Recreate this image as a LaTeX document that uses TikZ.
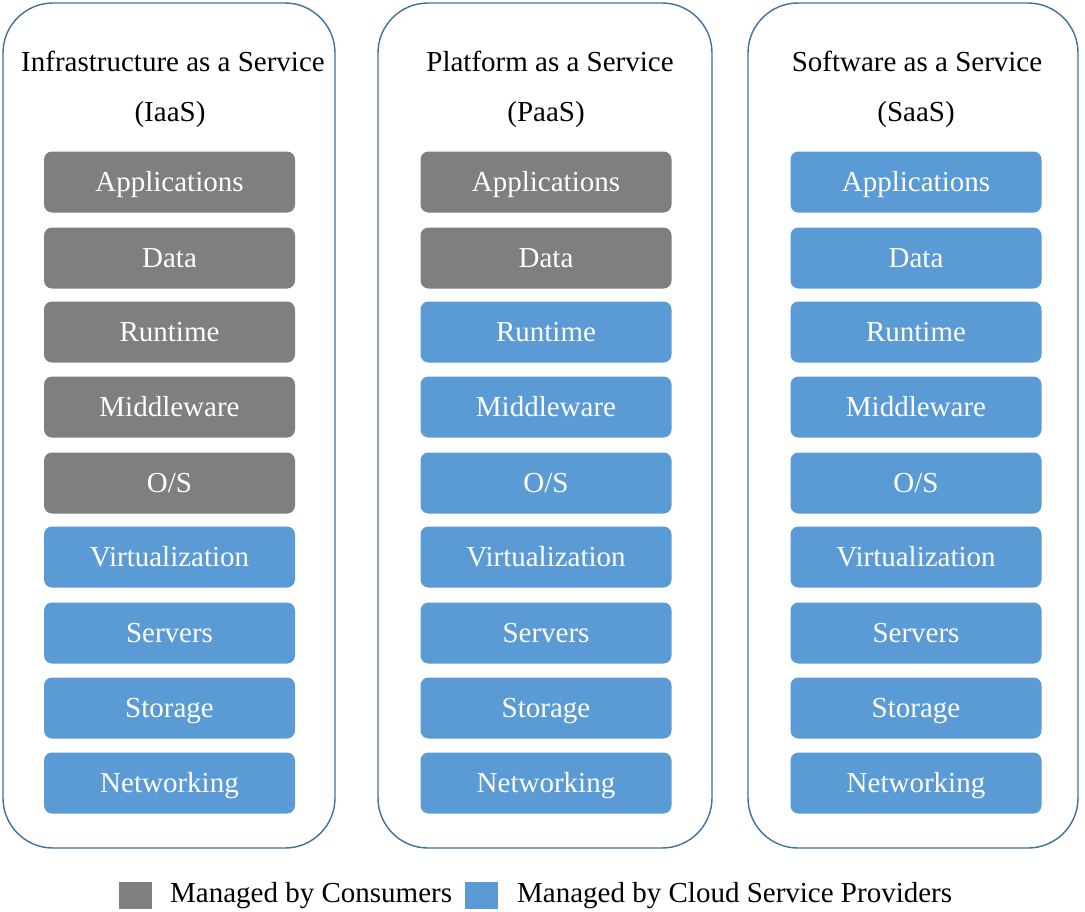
\documentclass[tikz,border=0pt]{standalone}
\usepackage{fontspec}
\setmainfont{Liberation Serif}
\definecolor{cgrey}{HTML}{7F7F7F}
\definecolor{cblue}{HTML}{5B9BD5}
\definecolor{cborder}{HTML}{41719C}
\begin{document}
\begin{tikzpicture}[x=1pt,y=-1pt,
  font=\fontsize{29}{34}\selectfont,
  container/.style={draw=cborder,line width=1.4pt,rounded corners=50pt,fill=white},
  layer/.style={rounded corners=8pt,minimum width=251pt,minimum height=61pt,inner sep=0pt,text=white,text height=22pt,text depth=3pt},
  cons/.style={layer,fill=cgrey},
  prov/.style={layer,fill=cblue},
  title/.style={text=black,inner sep=0pt,text height=22pt,text depth=3pt},
  legsq/.style={minimum width=33pt,minimum height=27pt,inner sep=0pt}]
\useasboundingbox (0,0) rectangle (1085,911);
\fill[white] (0,0) rectangle (1085,911);
% containers
\draw[container] (3,3) rectangle (335,848);
\draw[container] (378,3) rectangle (712,848);
\draw[container] (748,3) rectangle (1078,848);
% titles
\node[title] (t1a) at (173,62) {Infrastructure as a Service};
\node[title] (t1b) at (170,112) {(IaaS)};
\node[title] (t2a) at (550,62) {Platform as a Service};
\node[title] (t2b) at (546,112) {(PaaS)};
\node[title] (t3a) at (917,62) {Software as a Service};
\node[title] (t3b) at (916,112) {(SaaS)};
% IaaS
\node[cons] (i1) at (169.5,182) {Applications};
\node[cons] (i2) at (169.5,258) {Data};
\node[cons] (i3) at (169.5,332) {Runtime};
\node[cons] (i4) at (169.5,407) {Middleware};
\node[cons] (i5) at (169.5,483) {O/S};
\node[prov] (i6) at (169.5,557) {Virtualization};
\node[prov] (i7) at (169.5,633) {Servers};
\node[prov] (i8) at (169.5,708) {Storage};
\node[prov] (i9) at (169.5,783) {Networking};
% PaaS
\node[cons] (p1) at (546,182) {Applications};
\node[cons] (p2) at (546,258) {Data};
\node[prov] (p3) at (546,332) {Runtime};
\node[prov] (p4) at (546,407) {Middleware};
\node[prov] (p5) at (546,483) {O/S};
\node[prov] (p6) at (546,557) {Virtualization};
\node[prov] (p7) at (546,633) {Servers};
\node[prov] (p8) at (546,708) {Storage};
\node[prov] (p9) at (546,783) {Networking};
% SaaS
\node[prov] (s1) at (916,182) {Applications};
\node[prov] (s2) at (916,258) {Data};
\node[prov] (s3) at (916,332) {Runtime};
\node[prov] (s4) at (916,407) {Middleware};
\node[prov] (s5) at (916,483) {O/S};
\node[prov] (s6) at (916,557) {Virtualization};
\node[prov] (s7) at (916,633) {Servers};
\node[prov] (s8) at (916,708) {Storage};
\node[prov] (s9) at (916,783) {Networking};
% legend
\node[legsq,fill=cgrey] (lg1) at (135,895) {};
\node[title,anchor=west] (lt1) at (170,893) {Managed by Consumers};
\node[legsq,fill=cblue] (lg2) at (481.5,895) {};
\node[title,anchor=west] (lt2) at (517,893) {Managed by Cloud Service Providers};
\end{tikzpicture}
\end{document}
